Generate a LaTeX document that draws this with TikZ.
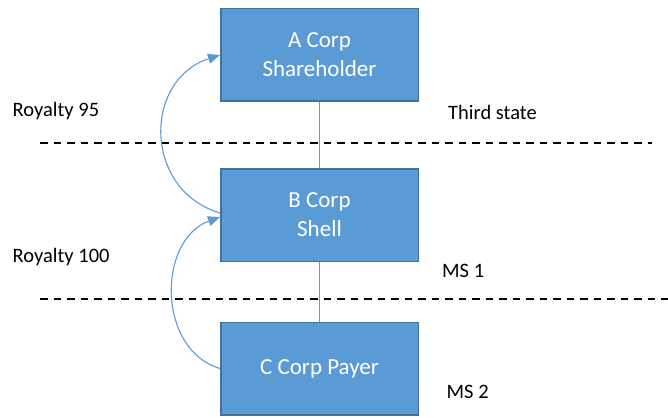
\documentclass[tikz,border=0pt]{standalone}
\usepackage{fontspec}
\setmainfont{Carlito}
\usetikzlibrary{arrows.meta}
\definecolor{boxblue}{HTML}{5B9BD5}
\definecolor{boxedge}{HTML}{41719C}
\begin{document}
\begin{tikzpicture}[x=1pt,y=-1pt,
  corp/.style={draw=boxedge, line width=1.5pt, fill=boxblue, text=white,
    minimum width=197.5pt, minimum height=92.5pt, inner sep=0pt, align=center,
    font=\fontsize{23}{29}\selectfont},
  lbl/.style={anchor=base west, inner sep=0pt, font=\fontsize{20.5}{24}\selectfont},
  link/.style={draw=boxblue, line width=1.3pt},
  flow/.style={draw=boxblue, line width=1.1pt, -{Triangle[length=12pt,width=10pt]}},
  border/.style={line width=2pt, dash pattern=on 7.5pt off 6pt}]
\useasboundingbox (0,0) rectangle (668,417);
% boxes
\node[corp] (A) at (319.5,55) {\raisebox{-1.5pt}{A Corp}\\\raisebox{-1.5pt}{Shareholder}};
\node[corp] (B) at (319.5,215) {B Corp\\Shell};
\node[corp] (C) at (319.5,368.5) {\raisebox{-2.5pt}{C Corp Payer}};
% borders
\draw[border] (40,142.5) -- (652,142.5);
\draw[border] (40,298.5) -- (668,298.5);
% labels
\node[lbl] (r95) at (12.5,116.7) {Royalty 95};
\node[lbl] (r100) at (12.5,262.7) {Royalty 100};
\node[lbl] (third) at (448,119) {Third state};
\node[lbl] (ms1) at (442,277.7) {MS 1};
\node[lbl] (ms2) at (446.5,398.3) {MS 2};
% connectors
\draw[link] (A.south) -- (B.north);
\draw[link] (B.south) -- (C.north);
\draw[flow] ([yshift=2pt]B.west) .. controls (143,190) and (143,80) .. (A.west);
\draw[flow] (C.west) .. controls (157,350) and (157,240) .. ([yshift=-2pt]B.west);
\end{tikzpicture}
\end{document}
